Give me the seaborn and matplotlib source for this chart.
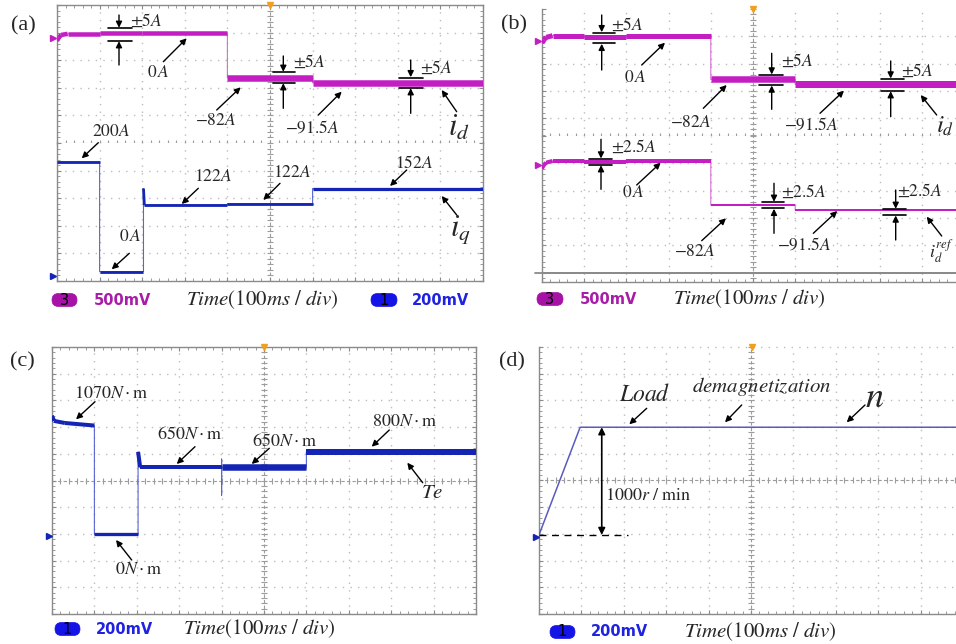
import numpy as np
import matplotlib
matplotlib.use("Agg")
import matplotlib.pyplot as plt
import seaborn as sns
from matplotlib.patches import FancyBboxPatch
from matplotlib.ticker import FixedLocator

# ---------------- data ----------------
step_t = [0, 100, 200, 400, 600, 1000]                 # ms, switching instants
id_t = [0, 4, 10, 25, 100, 100, 200, 200, 400, 400, 600, 600, 1000]
id_a_v = [-14, -8, -3, -1, -1, 0, 0, 0.5, 0.5, -82, -82, -91.5, -91.5]      # A, panel (a)
id_b_v = [-14, -8, -3, 0, 0, -3, -3, 0, 0, -82, -82, -91.5, -91.5]          # A, panel (b)
idref_v = [-14, -8, -3, 0, 0, -1, -1, 0, 0, -82, -82, -91.5, -91.5]         # A
iq_t = [0, 0, 100, 100, 203, 203, 205, 400, 400, 600, 600, 1000]
iq_v = [0, 200, 200, 0, 0, 152, 122, 122, 124, 124, 152, 152]              # A
te_t = [0, 0, 5, 30, 100, 100, 203, 203, 208, 400, 400, 400, 400, 600, 600, 1000]
te_v = [0, 1150, 1100, 1080, 1055, 0, 0, 800, 650, 650, 380, 730, 650, 650, 800, 800]  # N*m
n_t = [0, 97, 1000]
n_v = [0, 1000, 1000]                                                        # r/min

# ---------------- styling ----------------
sns.set_theme(style="white")
plt.rcParams["font.family"] = ["Liberation Serif", "DejaVu Sans"]
plt.rcParams["mathtext.fontset"] = "stix"

W, H = 956, 644
fig = plt.figure(figsize=(W / 100, H / 100), dpi=100)
fig.patch.set_facecolor("white")

GRID = "#bcbcbc"
SPINE = "#8a8a8a"
CENTER = "#9c9c9c"
MAG = "#c21ec2"
MAG_T = "#d070d0"
BLUE = "#1424b4"
BLUE_T = "#5a66d0"


def add_ax(x0, y0, x1, y1):
    return fig.add_axes([x0 / W, 1 - y1 / H, (x1 - x0) / W, (y1 - y0) / H])


def scope(ax, ytop, ydiv, ndiv, rows, center_row=None,
          spines=("left", "right", "top", "bottom"), solid_rows=()):
    ybot = ytop - ndiv * ydiv
    ax.set_xlim(0, 1000)
    ax.set_ylim(ybot, ytop)
    ax.set_facecolor("white")
    for s in ax.spines:
        ax.spines[s].set_visible(s in spines)
        ax.spines[s].set_color(SPINE)
        ax.spines[s].set_linewidth(1.0)
    for x in range(100, 1000, 100):
        if x == 500:
            continue
        ax.axvline(x, color=GRID, lw=1, dashes=(1, 4.5), zorder=0)
    for k in rows:
        ax.axhline(ytop - k * ydiv, color=GRID, lw=1, dashes=(1, 4.5), zorder=0, clip_on=False)
    for k in solid_rows:
        ax.axhline(ytop - k * ydiv, color=SPINE, lw=1.3, zorder=0)
    ax.axvline(500, color=CENTER, lw=0.8, dashes=(3, 2), zorder=0)
    yt = ytop - np.arange(0, ndiv + 0.01, 0.2) * ydiv
    ax.plot(np.full(len(yt), 500), yt, ls="none", marker="_", ms=4, mew=0.8,
            color=CENTER, zorder=0)
    if center_row is not None:
        yc = ytop - center_row * ydiv
        ax.axhline(yc, color=CENTER, lw=0.8, dashes=(3, 2), zorder=0, clip_on=False)
        xt = np.arange(0, 1001, 20)
        ax.plot(xt, np.full(len(xt), yc), ls="none", marker="|", ms=4, mew=0.8,
                color=CENTER, clip_on=False, zorder=0)
    ax.xaxis.set_major_locator(FixedLocator(np.arange(0, 1001, 100)))
    ax.xaxis.set_minor_locator(FixedLocator(np.arange(0, 1001, 20)))
    ax.yaxis.set_major_locator(FixedLocator(ytop - np.arange(0, ndiv + 0.01, 1) * ydiv))
    ax.yaxis.set_minor_locator(FixedLocator(yt))
    ax.tick_params(which="both", direction="in", color=SPINE, labelleft=False,
                   labelbottom=False, left="left" in spines, right="right" in spines,
                   top="top" in spines, bottom="bottom" in spines)
    ax.tick_params(which="major", length=3, width=0.8)
    ax.tick_params(which="minor", length=2, width=0.6)


def trace(ax, t, v, widths, color, thin_color):
    sns.lineplot(x=t, y=v, sort=False, estimator=None, ax=ax, color=thin_color,
                 lw=0.8, legend=False, zorder=2)
    t = np.asarray(t, float)
    v = np.asarray(v, float)
    for i in range(len(t) - 1):
        if t[i + 1] > t[i]:
            mid = (t[i] + t[i + 1]) / 2
            k = int(np.searchsorted(step_t, mid)) - 1
            ax.plot(t[i:i + 2], v[i:i + 2], color=color, lw=widths[k] * 0.72,
                    solid_capstyle="butt", zorder=3)
    ax.set_xlabel("")
    ax.set_ylabel("")


# ---------------- panel (a) ----------------
a1 = add_ax(57, 5, 483, 143)
scope(a1, 52.3, 51.0, 5, rows=[1, 2, 3, 4], center_row=5, spines=("left", "right", "top"))
trace(a1, id_t, id_a_v, [4.5, 4.5, 4.5, 6.5, 6.5], MAG, MAG_T)

a2 = add_ax(57, 143, 483, 281)
scope(a2, 235.2, 50.45, 5, rows=[1, 2, 3, 4], spines=("left", "right", "bottom"))
trace(a2, iq_t, iq_v, [2.8, 2.8, 2.8, 2.8, 3.2], BLUE, BLUE_T)

# ---------------- panel (b) ----------------
b1 = add_ax(542, 9, 964, 136)
scope(b1, 50.2, 51.3, 127 / 27.3, rows=[1, 2, 3, 4], center_row=127 / 27.3,
      spines=("left",))
trace(b1, id_t, id_b_v, [5, 5, 5, 6.5, 7], MAG, MAG_T)

b2 = add_ax(542, 136, 964, 282)
scope(b2, 46.6, 50.9, 146 / 27.3, rows=[1, 2, 3, 4], solid_rows=[5],
      spines=("left", "bottom"))
trace(b2, id_t, idref_v, [4, 4, 4, 2, 2], MAG, MAG_T)

# ---------------- panel (c) ----------------
c1 = add_ax(52, 347, 476, 614)
scope(c1, 1817, 259, 10, rows=[1, 2, 3, 4, 6, 7, 8, 9], center_row=5)
trace(c1, te_t, te_v, [4, 3.3, 4, 6.5, 6], BLUE, BLUE_T)

# ---------------- panel (d) ----------------
d1 = add_ax(539, 347, 963, 614)
scope(d1, 1745, 247.9, 10, rows=[0, 1, 2, 3, 4, 6, 7, 8, 9], center_row=5,
      spines=("left", "bottom"))
sns.lineplot(x=n_t, y=n_v, sort=False, estimator=None, ax=d1, color="#5a5ac0",
             lw=1.1, legend=False, zorder=3)
d1.set_xlabel("")
d1.set_ylabel("")
d1.plot([n_t[0], 209], [n_v[0], n_v[0]], color="black", lw=1, dashes=(5, 4), zorder=3)
d1.annotate("", xy=(148, n_v[-1]), xytext=(148, n_v[0]),
            arrowprops=dict(arrowstyle="<|-|>", color="black", lw=1.2,
                            mutation_scale=10, shrinkA=0, shrinkB=0), zorder=4)

# ---------------- overlay for annotations ----------------
ov = fig.add_axes([0, 0, 1, 1], zorder=20)
ov.set_xlim(0, W)
ov.set_ylim(H, 0)
ov.axis("off")
ov.patch.set_alpha(0)


def txt(x, y, s, size=12, **kw):
    kw.setdefault("ha", "center")
    kw.setdefault("va", "center")
    ov.text(x, y, s, fontsize=size, **kw)


def arr(x0, y0, x1, y1):
    ov.annotate("", xy=(x1, y1), xytext=(x0, y0),
                arrowprops=dict(arrowstyle="-|>", color="black", lw=1.0,
                                mutation_scale=9, shrinkA=0, shrinkB=0))


def tol(x0, x1, yu, yl, xa, yd, yup):
    ov.plot([x0, x1], [yu, yu], color="black", lw=1.2)
    ov.plot([x0, x1], [yl, yl], color="black", lw=1.2)
    arr(xa, yd, xa, yu - 0.5)
    arr(xa, yup, xa, yl + 0.5)


def pill(x0, x1, yc, color, label):
    ov.add_patch(FancyBboxPatch((x0, yc - 6.5), x1 - x0, 13,
                                boxstyle="round,pad=0,rounding_size=6.5",
                                fc=color, ec=color, lw=0.5))
    txt((x0 + x1) / 2, yc, label, 10.5, family="DejaVu Sans", color="black")


def volts(xc, yc, s, color):
    txt(xc, yc, s, 10.5, family="DejaVu Sans", weight="bold", color=color)


TIME = r"$Time\mathrm{(100}ms\ /\ div\mathrm{)}$"
PILL_M = "#a512a5"
PILL_B = "#1414e6"
V_M = "#a81ca8"
V_B = "#1f22e0"

# panel labels
for x, y, s in [(23, 26, "(a)"), (514, 25, "(b)"), (22, 362, "(c)"), (512, 362, "(d)")]:
    txt(x, y, s, 16)

# bottom legends
pill(52, 77, 300, PILL_M, "3"); volts(122.5, 300, "500mV", V_M); txt(262, 300, TIME, 15)
pill(371, 397, 300, PILL_B, "1"); volts(441, 300, "200mV", V_B)
pill(537, 563, 299, PILL_M, "3"); volts(608.5, 299, "500mV", V_M); txt(749, 299, TIME, 15)
pill(55, 80, 629, PILL_B, "1"); volts(125, 629, "200mV", V_B); txt(259.5, 629, TIME, 15)
pill(550, 575, 632, PILL_B, "1"); volts(620, 632, "200mV", V_B); txt(760, 632, TIME, 15)

# ground reference markers and trigger markers
for x, y, c in [(53, 38, MAG), (53, 276, BLUE), (538, 41, MAG), (538, 165, MAG),
                (49, 536, BLUE), (536, 536.7, BLUE)]:
    ov.plot([x], [y], marker=">", ms=5, color=c, ls="none")
for x, y in [(270, 5), (752.7, 9), (264.3, 347), (751.7, 347)]:
    ov.plot([x], [y], marker="v", ms=4, color="#f0a020", ls="none")

# (b) extra baseline
ov.plot([535, 956], [273, 273], color=SPINE, lw=1.3)

# ---- (a) annotations ----
for x, y, s in [(146, 21, r"$\pm5A$"), (158, 73, r"$0\,A$"), (216, 121, r"$-82A$"),
                (309, 62, r"$\pm5A$"), (312, 128, r"$-91.5A$"), (436, 68, r"$\pm5A$"),
                (111, 132, r"$200A$"), (130, 237, r"$0\,A$"), (213, 177, r"$122A$"),
                (292, 173, r"$122A$"), (414, 163, r"$152A$")]:
    txt(x, y, s, 12.5)
txt(459, 128, r"$i_d$", 22)
txt(460, 229, r"$i_q$", 22)
for a in [(163.3, 61.7, 186.7, 38.3), (216.7, 110, 240.7, 87.3), (318.3, 115, 341.7, 91.7),
          (456.7, 111.7, 441.7, 90), (98.3, 142.7, 81.7, 158.3), (129.3, 253.3, 111.7, 269.3),
          (198.3, 188.3, 181.7, 204), (280, 183.3, 263.3, 200), (406.7, 170, 390, 186),
          (456.7, 215, 441.7, 196)]:
    arr(*a)
tol(108, 132, 28.3, 40.7, 119, 15, 65)
tol(272.7, 295, 72.3, 82.7, 283.3, 56, 108.3)
tol(399.3, 422.7, 77.7, 87.7, 410.7, 60, 113.3)

# ---- (b) annotations ----
for x, y, s in [(627, 25, r"$\pm5A$"), (635, 78, r"$0\,A$"), (691, 123, r"$-82A$"),
                (797, 61, r"$\pm5A$"), (811, 125, r"$-91.5A$"), (917, 71, r"$\pm5A$"),
                (634, 147, r"$\pm2.5A$"), (633, 193, r"$0\,A$"), (695, 252, r"$-82A$"),
                (804, 192, r"$\pm2.5A$"), (804, 245, r"$-91.5A$"), (920, 191, r"$\pm2.5A$")]:
    txt(x, y, s, 12.5)
txt(936, 126, r"$i_d$", 18, ha="left")
txt(929, 251, r"$i_d^{ref}$", 13, ha="left")
for a in [(641.7, 65, 665, 42.7), (703.3, 108.3, 726.7, 85), (820, 113.3, 844, 90.7),
          (936.7, 115, 920.7, 95), (636.7, 185, 660.7, 162.7), (701.7, 240.7, 726, 218.3),
          (813.3, 233.3, 837.3, 211), (941.7, 236, 926.7, 216.7)]:
    arr(*a)
tol(593.3, 615, 32.7, 43.3, 601.7, 15, 70)
tol(759.3, 782.7, 75, 85, 771.7, 53.3, 109.3)
tol(880.7, 904, 79, 90.7, 890.7, 61, 116.7)
tol(589.3, 611.7, 159, 164.7, 601, 139.3, 189.3)
tol(761.7, 784, 202.3, 208.3, 774, 183.3, 233.3)
tol(883.3, 906, 209.3, 215, 895.7, 190, 240)

# ---- (c) annotations ----
for x, y, s in [(111, 393, r"$1070N\cdot\mathrm{m}$"), (139, 569, r"$0N\cdot\mathrm{m}$"),
                (190, 434, r"$650N\cdot\mathrm{m}$"), (285, 441, r"$650N\cdot\mathrm{m}$"),
                (405, 421, r"$800N\cdot\mathrm{m}$")]:
    txt(x, y, s, 13)
txt(432, 493, r"$Te$", 15)
for a in [(95, 401.7, 76, 419.3), (131.7, 560, 116, 540), (195, 446.7, 176.7, 464),
          (269.3, 448.3, 251.7, 464), (389.3, 430, 371.7, 446.7), (422.7, 482.7, 407.3, 462.7)]:
    arr(*a)

# ---- (d) annotations ----
txt(645, 395, r"$Load$", 17)
txt(762, 386, r"$demagnetization$", 15)
txt(875, 398, r"$n$", 26)
txt(648, 495, r"$1000r\ /\ \mathrm{min}$", 13)
for a in [(646.7, 408.3, 629.3, 424.3), (741.7, 405, 725, 422.3), (865, 405, 846.7, 422.3)]:
    arr(*a)

fig.savefig("out.png", dpi=100)
